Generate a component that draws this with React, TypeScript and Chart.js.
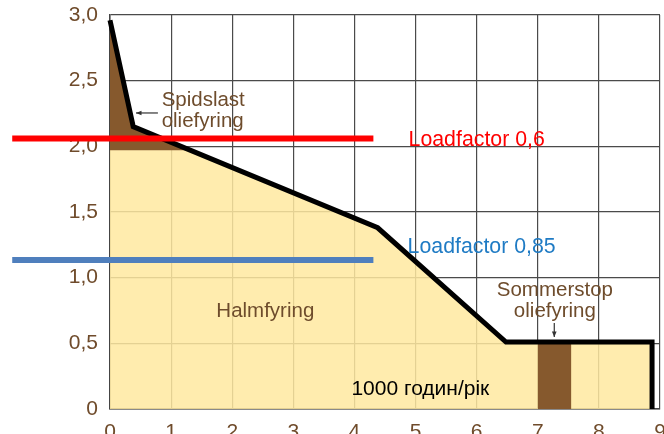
import React, { useEffect, useRef } from "react";
import { Chart, registerables } from "chart.js";

Chart.register(...registerables);

// Load duration curve (x: 1000 hours/year, y: load)
const curveX = [0, 0.38, 4.38, 6.48, 8.87, 8.87];
const curveY = [2.96, 2.15, 1.38, 0.51, 0.51, 0];

// Peak load oil firing wedge
const peakX = [0, 0.38, 1.31];
const peakY = [2.96, 2.15, 1.97];
const peakBase = 1.97;

// Summer stop oil firing block
const summerX = [7.0, 7.55];
const summerY = [0.51, 0.51];

// Load factor lines
const loadLineX = [-1.6, 4.31];
const loadFactor06 = 2.06;
const loadFactor085 = 1.135;

// Axis ticks
const xTickValues = [0, 1, 2, 3, 4, 5, 6, 7, 8, 9];
const yTickValues = [0, 0.5, 1, 1.5, 2, 2.5, 3];

// Text annotations
const labelTexts = [
  "Spidslast",
  "oliefyring",
  "Halmfyring",
  "Sommerstop",
  "oliefyring",
  "Loadfactor 0,6",
  "Loadfactor 0,85",
  "1000 годин/рік",
];
const labelX = [0.845, 0.845, 1.74, 7.28, 7.28, 4.886, 4.87, 3.95];
const labelY = [2.353, 2.19, 0.746, 0.906, 0.746, 2.049, 1.236, 0.152];
const labelAlign = ["left", "left", "left", "center", "center", "left", "left", "left"];
const labelSize = [20.5, 20.5, 20.5, 20.5, 20.5, 21.3, 21.3, 21];
const labelColor = ["#6e4c2c", "#6e4c2c", "#6e4c2c", "#6e4c2c", "#6e4c2c", "#ff0000", "#1f7bc4", "#000000"];

// Arrows [x1, y1, x2(head), y2(head)]
const arrowSpids = [0.784, 2.254, 0.425, 2.254];
const arrowSommer = [7.27, 0.655, 7.27, 0.548];

const pts = (xs: number[], ys: number[]) => xs.map((x, i) => ({ x, y: ys[i] }));

const annotationPlugin = {
  id: "annotations",
  afterDatasetsDraw(chart: any) {
    const { ctx, scales } = chart;
    const xs = scales.x;
    const ys = scales.y;
    ctx.save();
    ctx.textBaseline = "middle";
    labelTexts.forEach((t, i) => {
      ctx.font = `${labelSize[i]}px "Liberation Sans", Arial, sans-serif`;
      ctx.fillStyle = labelColor[i];
      ctx.textAlign = labelAlign[i];
      ctx.fillText(t, xs.getPixelForValue(labelX[i]), ys.getPixelForValue(labelY[i]));
    });
    const drawArrow = (a: number[]) => {
      const x1 = xs.getPixelForValue(a[0]);
      const y1 = ys.getPixelForValue(a[1]);
      const x2 = xs.getPixelForValue(a[2]);
      const y2 = ys.getPixelForValue(a[3]);
      ctx.strokeStyle = "#333";
      ctx.fillStyle = "#333";
      ctx.lineWidth = 1.2;
      ctx.beginPath();
      ctx.moveTo(x1, y1);
      ctx.lineTo(x2, y2);
      ctx.stroke();
      const ang = Math.atan2(y2 - y1, x2 - x1);
      const L = 6;
      ctx.beginPath();
      ctx.moveTo(x2, y2);
      ctx.lineTo(x2 - L * Math.cos(ang - 0.4), y2 - L * Math.sin(ang - 0.4));
      ctx.lineTo(x2 - L * Math.cos(ang + 0.4), y2 - L * Math.sin(ang + 0.4));
      ctx.closePath();
      ctx.fill();
    };
    drawArrow(arrowSpids);
    drawArrow(arrowSommer);
    ctx.restore();
  },
};

export default function App() {
  const ref = useRef<HTMLCanvasElement>(null);

  useEffect(() => {
    if (!ref.current) return;
    const chart = new Chart(ref.current, {
      type: "line",
      data: {
        datasets: [
          {
            data: pts(loadLineX, [loadFactor06, loadFactor06]),
            borderColor: "#ff0000",
            borderWidth: 6,
            pointRadius: 0,
            fill: false,
            clip: false as any,
            order: 1,
            borderCapStyle: "butt",
          },
          {
            data: pts(loadLineX, [loadFactor085, loadFactor085]),
            borderColor: "#4f7fbd",
            borderWidth: 6,
            pointRadius: 0,
            fill: false,
            clip: false as any,
            order: 1,
            borderCapStyle: "butt",
          },
          {
            data: pts(curveX, curveY),
            borderColor: "#000000",
            borderWidth: 5,
            pointRadius: 0,
            fill: false,
            borderJoinStyle: "miter",
            order: 2,
            clip: false as any,
          },
          {
            data: pts(summerX, summerY),
            borderWidth: 0,
            borderColor: "rgba(0,0,0,0)",
            backgroundColor: "#86592d",
            pointRadius: 0,
            fill: "origin",
            order: 3,
          },
          {
            data: pts(peakX, peakY),
            borderWidth: 0,
            borderColor: "rgba(0,0,0,0)",
            backgroundColor: "#86592d",
            pointRadius: 0,
            fill: { value: peakBase },
            order: 4,
          },
          {
            data: pts(curveX, curveY),
            borderWidth: 0,
            borderColor: "rgba(0,0,0,0)",
            backgroundColor: "rgba(255, 233, 160, 0.85)",
            pointRadius: 0,
            fill: "origin",
            order: 5,
          },
        ],
      },
      options: {
        animation: false,
        responsive: false,
        devicePixelRatio: 1,
        layout: { padding: { top: 15, right: 4, left: 0, bottom: 0 } },
        plugins: { legend: { display: false }, tooltip: { enabled: false } },
        elements: { line: { tension: 0 } },
        scales: {
          x: {
            type: "linear",
            min: 0,
            max: 9,
            afterBuildTicks: (s: any) => {
              s.ticks = xTickValues.map((v) => ({ value: v }));
            },
            afterFit: (s: any) => {
              s.height = 51;
              s.paddingLeft = 0;
              s.paddingRight = 0;
            },
            grid: { color: "#4a4a4a", lineWidth: 1.2, drawTicks: false },
            border: { color: "#444", width: 1.5 },
            ticks: {
              padding: 11,
              color: "#6f4b2b",
              font: { size: 21, family: '"Liberation Sans", Arial, sans-serif' },
              callback: (v: any) => String(v),
            },
          },
          y: {
            type: "linear",
            min: 0,
            max: 3,
            afterBuildTicks: (s: any) => {
              s.ticks = yTickValues.map((v) => ({ value: v }));
            },
            afterFit: (s: any) => {
              s.width = 110;
              s.paddingTop = 0;
              s.paddingBottom = 0;
            },
            grid: { color: "#4a4a4a", lineWidth: 1.2, drawTicks: false },
            border: { color: "#444", width: 1.5 },
            ticks: {
              padding: 12,
              color: "#6f4b2b",
              font: { size: 21, family: '"Liberation Sans", Arial, sans-serif' },
              callback: (v: any) => (Number(v) === 0 ? "0" : Number(v).toFixed(1).replace(".", ",")),
            },
          },
        },
      },
      plugins: [annotationPlugin],
    });
    return () => chart.destroy();
  }, []);

  return (
    <div
      style={{
        position: "fixed",
        left: 0,
        top: 0,
        width: 664,
        height: 434,
        overflow: "hidden",
        background: "#fff",
      }}
    >
      <canvas ref={ref} width={664} height={460} style={{ display: "block" }} />
    </div>
  );
}
